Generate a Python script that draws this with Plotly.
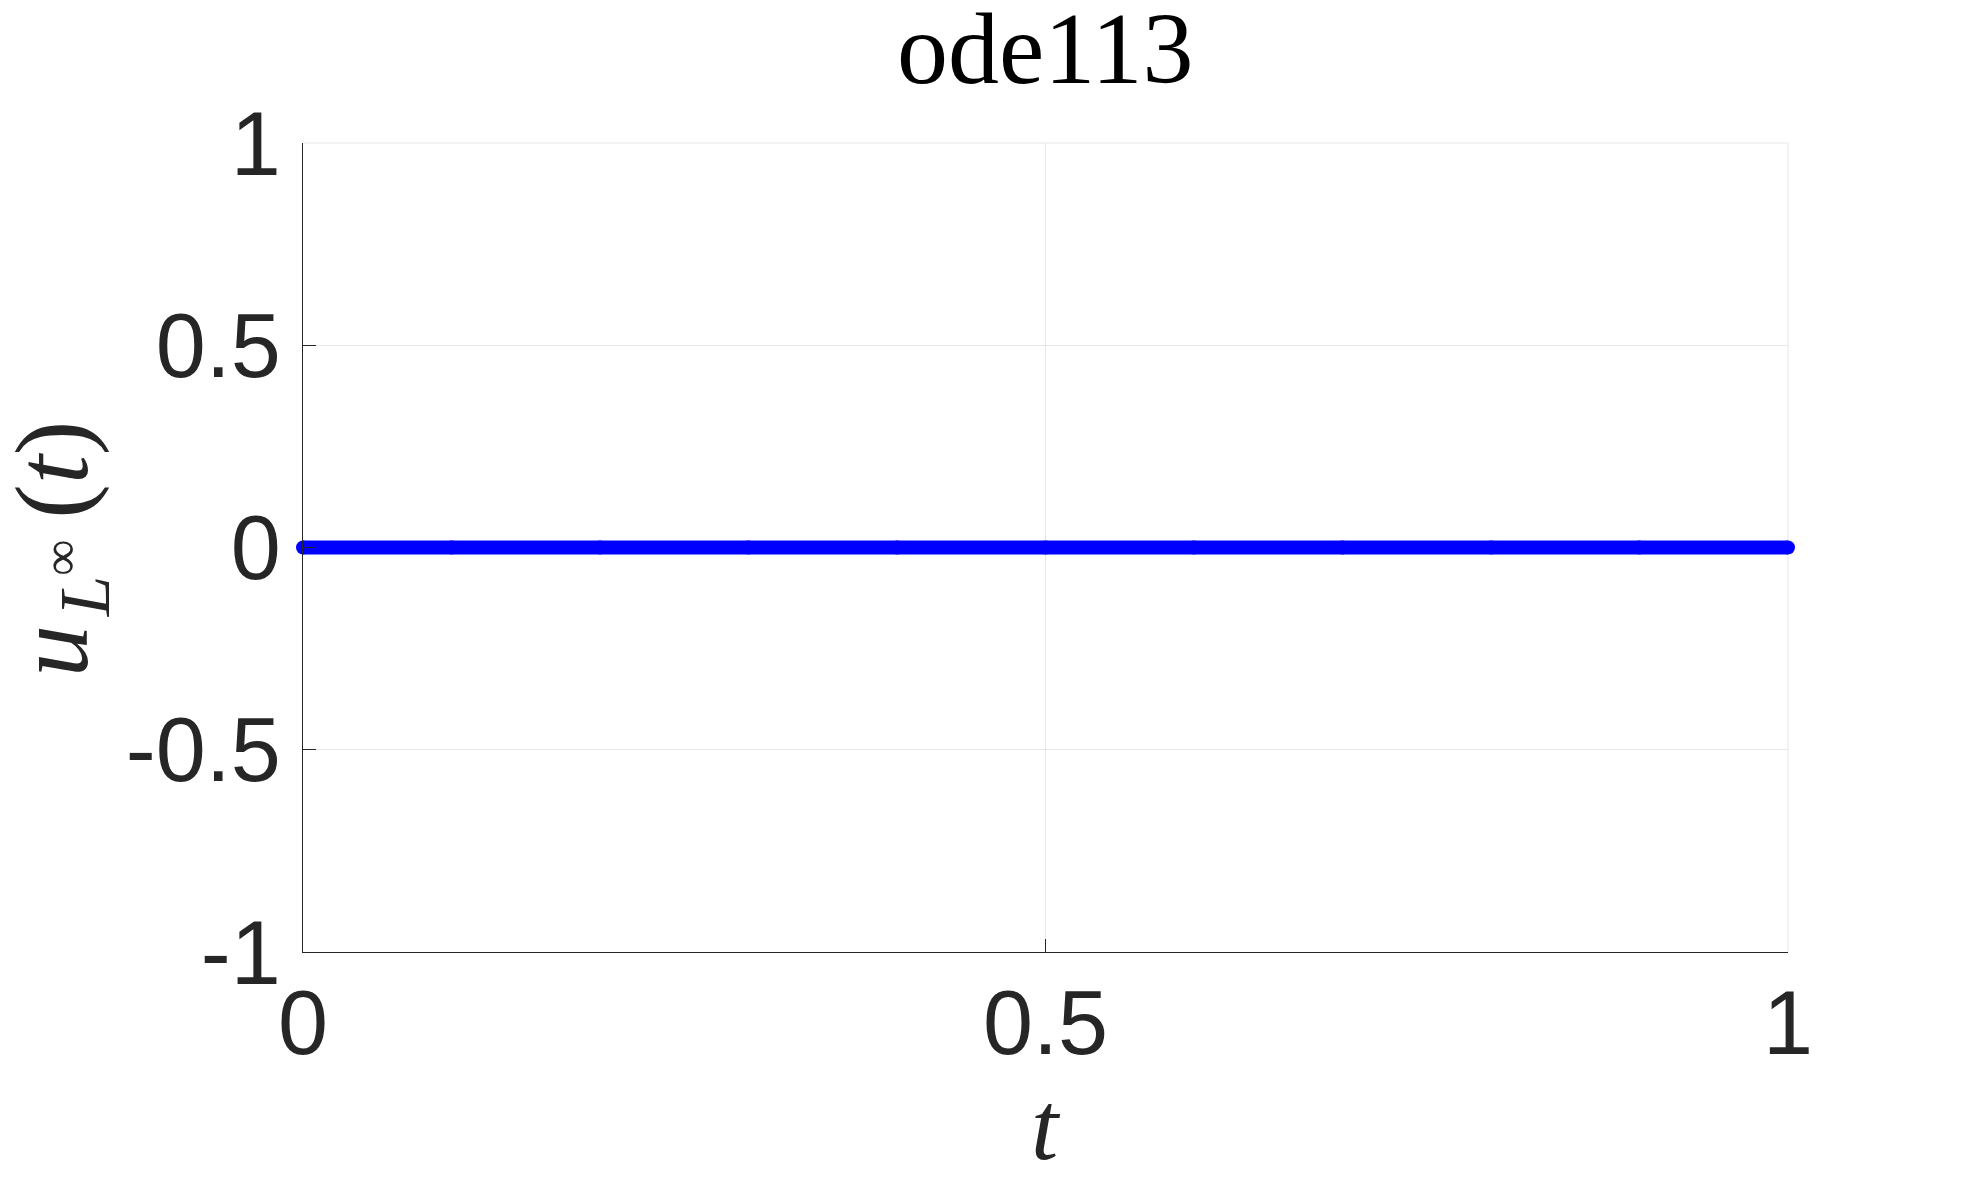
import plotly.graph_objects as go

# Data: solution norm returned by ode113 (identically zero)
t_values = [0.0, 0.1, 0.2, 0.3, 0.4, 0.5, 0.6, 0.7, 0.8, 0.9, 1.0]
u_values = [0.0, 0.0, 0.0, 0.0, 0.0, 0.0, 0.0, 0.0, 0.0, 0.0, 0.0]
x_ticks = [0, 0.5, 1]
x_tick_labels = ["0", "0.5", "1"]
y_ticks = [-1, -0.5, 0, 0.5, 1]
y_tick_labels = ["-1", "-0.5", "0", "0.5", "1"]

OFF = 8  # page body margin
W, H = 1977 - 2 * OFF, 1199 - 2 * OFF
PW, PH = 1485, 809
L, T = 303 - OFF, 143 - OFF
R, B = W - L - PW, H - T - PH


def px_x(sx):
    return (sx - OFF - L) / PW


def px_y(sy):
    return 1 - (sy - OFF - T) / PH


fig = go.Figure()
fig.add_trace(go.Scatter(
    x=t_values, y=u_values, mode="lines+markers",
    line=dict(color="#0000ff", width=14),
    marker=dict(color="#0000ff", size=14, line=dict(width=0)),
    cliponaxis=False, showlegend=False, hoverinfo="skip",
))

axis_common = dict(
    showline=True, linecolor="#262626", linewidth=1.3,
    ticks="inside", ticklen=13, tickwidth=1.3, tickcolor="#262626",
    showgrid=True, gridcolor="#e6e6e6", gridwidth=1,
    zeroline=False,
    tickfont=dict(family="Liberation Sans, Arial, sans-serif", size=90, color="#262626"),
)

fig.update_xaxes(range=[0, 1], tickvals=x_ticks, ticktext=x_tick_labels,
                 ticklabelstandoff=-7, **axis_common)
fig.update_yaxes(range=[-1, 1], tickvals=y_ticks, ticktext=y_tick_labels,
                 ticklabelstandoff=3, **axis_common)

# light box edges (top and right)
fig.add_shape(type="line", xref="paper", yref="paper", x0=0, x1=1, y0=1, y1=1,
              line=dict(color="#e6e6e6", width=1), layer="below")
fig.add_shape(type="line", xref="paper", yref="paper", x0=1, x1=1, y0=0, y1=1,
              line=dict(color="#e6e6e6", width=1), layer="below")

serif = "Liberation Serif, DejaVu Serif, serif"
fig.add_annotation(text="ode113", xref="paper", yref="paper",
                   x=0.5, y=px_y(49), xanchor="center", yanchor="middle",
                   showarrow=False, font=dict(family=serif, size=102, color="#000000"))
fig.add_annotation(text="<i>t</i>", xref="paper", yref="paper",
                   x=0.5, y=px_y(1126), xanchor="center", yanchor="middle",
                   showarrow=False, font=dict(family=serif, size=98, color="#262626"))
fig.add_annotation(text="<i>u</i>&#8202;<sub><i>L</i><sup>∞</sup></sub>&#8201;(<i>t</i>)",
                   xref="paper", yref="paper",
                   x=px_x(59), y=px_y(548), xanchor="center", yanchor="middle",
                   textangle=-90, showarrow=False,
                   font=dict(family=serif, size=104, color="#262626"))

fig.update_layout(
    width=W, height=H,
    margin=dict(l=L, r=R, t=T, b=B, autoexpand=False),
    paper_bgcolor="white", plot_bgcolor="white",
)

fig.write_html("out.html")
